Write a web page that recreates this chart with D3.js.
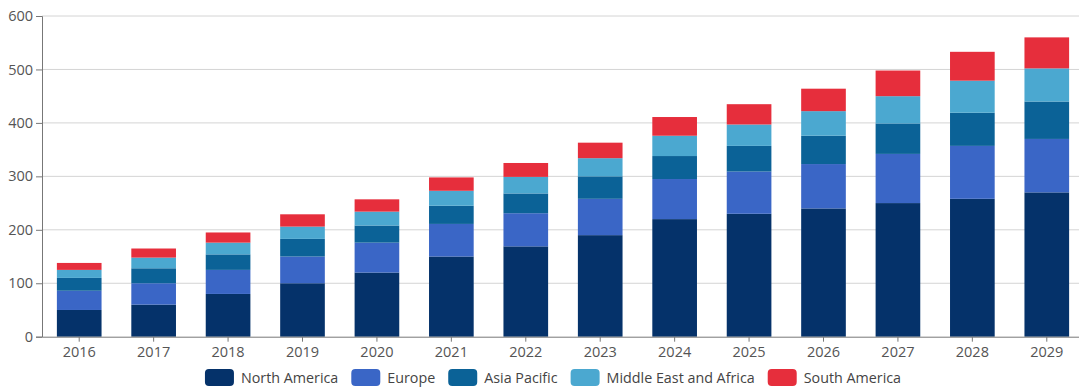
<!DOCTYPE html>
<html>
<head>
<meta charset="utf-8">
<script src="https://cdn.jsdelivr.net/npm/d3@7"></script>
<style>
  html, body { margin: 0; padding: 0; background: #fff; }
  svg { display: block; font-family: "Open Sans", sans-serif; }
</style>
</head>
<body>
<svg id="chart" width="1079" height="387"></svg>
<script>
const years = ["2016","2017","2018","2019","2020","2021","2022","2023","2024","2025","2026","2027","2028","2029"];
const seriesNames = ["North America","Europe","Asia Pacific","Middle East and Africa","South America"];
const northAmerica = [50, 60, 80, 100, 120, 150, 169, 190, 220, 230, 240, 250, 258, 270];
const europe       = [36, 40, 45, 50, 56, 61, 62, 68, 75, 79, 83, 92, 99, 100];
const asiaPacific  = [24, 28, 29, 33, 32, 34, 37, 42, 43, 48, 53, 57, 62, 70];
const middleEast   = [15, 20, 22, 23, 26, 28, 31, 34, 38, 40, 46, 51, 60, 62];
const southAmerica = [13, 17, 19, 23, 23, 25, 26, 29, 35, 38, 42, 48, 54, 58];
const yTicks = [0, 100, 200, 300, 400, 500, 600];
const colors = ["#05326a", "#3a66c6", "#0b6297", "#4ba8d0", "#e62e3c"];

const seriesValues = [northAmerica, europe, asiaPacific, middleEast, southAmerica];
const table = years.map((y, i) => {
  const row = { year: y };
  seriesNames.forEach((s, k) => row[s] = seriesValues[k][i]);
  return row;
});

const svg = d3.select("#chart");
const x = d3.scaleBand().domain(years).range([42, 1084]).paddingInner(0.4).paddingOuter(0.2);
const y = d3.scaleLinear().domain([0, 600]).range([336.7, 16]);

// gridlines
svg.append("g").selectAll("line").data(yTicks.filter(d => d > 0)).join("line")
  .attr("x1", 42).attr("x2", 1079)
  .attr("y1", d => y(d)).attr("y2", d => y(d))
  .attr("stroke", "#d4d4d4").attr("stroke-width", 1);

// bars
const stack = d3.stack().keys(seriesNames)(table);
const color = d3.scaleOrdinal().domain(seriesNames).range(colors);
svg.append("g").selectAll("g").data(stack).join("g")
  .attr("fill", d => color(d.key))
  .selectAll("rect").data(d => d).join("rect")
  .attr("x", d => x(d.data.year))
  .attr("width", x.bandwidth())
  .attr("y", d => y(d[1]))
  .attr("height", d => y(d[0]) - y(d[1]));

// y axis
const yAxis = svg.append("g").attr("transform", "translate(42,0)")
  .call(d3.axisLeft(y).tickValues(yTicks).tickSize(6).tickPadding(3));
yAxis.select(".domain").attr("stroke", "#777");
yAxis.selectAll(".tick line").attr("stroke", "#777");
yAxis.selectAll("text").attr("fill", "#555").style("font-size", "14.5px").style("font-family", "Open Sans, sans-serif");

// x axis
const xAxis = svg.append("g").attr("transform", "translate(0,336.7)")
  .call(d3.axisBottom(x).tickSize(5).tickPadding(5).tickSizeOuter(0));
xAxis.select(".domain").attr("stroke", "#777");
xAxis.selectAll(".tick line").attr("stroke", "#777");
xAxis.selectAll("text").attr("fill", "#555").style("font-size", "14.5px").style("font-family", "Open Sans, sans-serif");

// legend
const legend = svg.append("g");
const items = legend.selectAll("g").data(seriesNames).join("g");
items.append("rect").attr("width", 29).attr("height", 17).attr("rx", 4).attr("ry", 4)
  .attr("y", 369).attr("fill", d => color(d));
items.append("text").text(d => d).attr("x", 36).attr("y", 383)
  .attr("fill", "#444").style("font-size", "14.3px");
let widths = [];
items.each(function() { widths.push(36 + d3.select(this).select("text").node().getComputedTextLength()); });
const gap = 13;
const total = d3.sum(widths) + gap * (widths.length - 1);
let cx = 553 - total / 2;
items.attr("transform", (d, i) => { const t = `translate(${cx},0)`; cx += widths[i] + gap; return t; });
</script>
</body>
</html>
